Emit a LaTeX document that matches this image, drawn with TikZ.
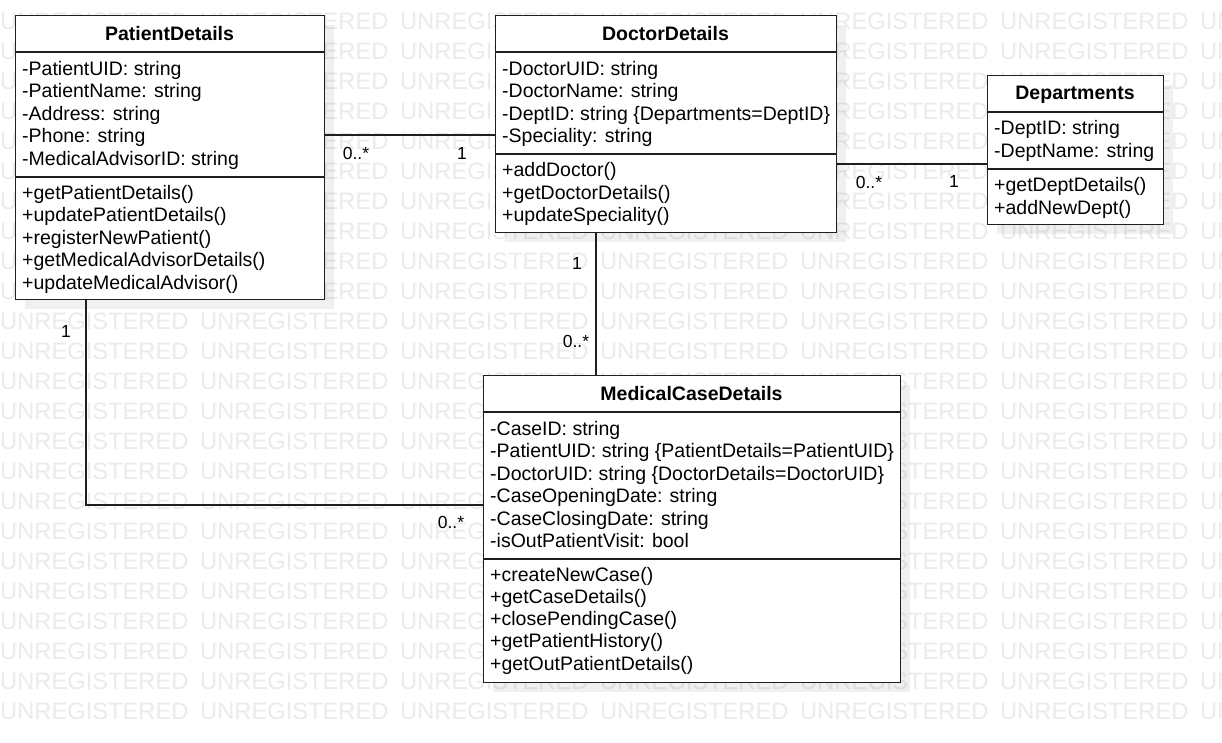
\documentclass[tikz,border=0pt]{standalone}
\usepackage{fontspec}
\setmainfont{Liberation Sans}
\begin{document}
\begin{tikzpicture}[x=1pt,y=-1pt,
  wm/.style={anchor=base west, inner sep=0pt, text=black!8, font=\fontsize{23.7}{24}\selectfont},
  classbox/.style={draw=black!88, line width=1.4pt, fill=white, anchor=north west, inner sep=0pt},
  shadowbox/.style={fill=black, fill opacity=0.06, draw=none, anchor=north west, inner sep=0pt},
  classtitle/.style={anchor=base, inner sep=0pt, font=\bfseries\fontsize{19.5}{22}\selectfont},
  member/.style={anchor=base west, inner sep=0pt, font=\fontsize{19.5}{22}\selectfont},
  mult/.style={inner sep=0pt, font=\fontsize{17.5}{20}\selectfont},
  assoc/.style={draw=black!88, line width=1.4pt},
  divider/.style={draw=black!88, line width=1.4pt}]

\useasboundingbox (0,0) rectangle (1222,742);
\fill[white] (0,0) rectangle (1222,742);

% watermark (words wholly hidden behind class boxes are left out)
\begin{scope}
  \clip (0,0) rectangle (1222,742);
  \foreach \r in {0,...,23}
    \foreach \c in {0,...,6}{
      \pgfmathtruncatemacro\hideword{(\c==3 && ((\r>=13 && \r<=21) || (\r>=1 && \r<=6))) ? 1 : 0}
      \ifnum\hideword=0
        \node[wm] (wm-\r-\c) at (\c*200, 29.5+\r*30) {UNREGISTERED};
      \fi
    }
\end{scope}

% shadows
\node[shadowbox, minimum width=309, minimum height=284] (patientsh) at (25,25) {};
\node[shadowbox, minimum width=341, minimum height=217] (doctorsh) at (505,25) {};
\node[shadowbox, minimum width=176, minimum height=149] (deptsh) at (997,85) {};
\node[shadowbox, minimum width=417, minimum height=307] (medicalsh) at (493,385) {};

% class boxes
\node[classbox, minimum width=309, minimum height=284] (patient) at (15,15) {};
\node[classbox, minimum width=341, minimum height=217] (doctor) at (495,15) {};
\node[classbox, minimum width=176, minimum height=149] (dept) at (987,75) {};
\node[classbox, minimum width=417, minimum height=307] (medical) at (483,375) {};

% dividers
\draw[divider] (patient.west |- 0,52) -- (patient.east |- 0,52);
\draw[divider] (patient.west |- 0,177) -- (patient.east |- 0,177);
\draw[divider] (doctor.west |- 0,52) -- (doctor.east |- 0,52);
\draw[divider] (doctor.west |- 0,154) -- (doctor.east |- 0,154);
\draw[divider] (dept.west |- 0,112) -- (dept.east |- 0,112);
\draw[divider] (dept.west |- 0,169) -- (dept.east |- 0,169);
\draw[divider] (medical.west |- 0,412) -- (medical.east |- 0,412);
\draw[divider] (medical.west |- 0,559) -- (medical.east |- 0,559);

% titles
\node[classtitle] (patientT) at (169.5,40.5) {PatientDetails};
\node[classtitle] (doctorT) at (665.5,40.5) {DoctorDetails};
\node[classtitle] (deptT) at (1075,99.5) {Departments};
\node[classtitle] (medicalT) at (691.5,400) {MedicalCaseDetails};

% members
\foreach \t [count=\i from 0] in {-PatientUID: string,-PatientName: string,-Address: string,-Phone: string,-MedicalAdvisorID: string}
  \node[member] (pa\i) at (22,75+\i*22.5) {\t};
\foreach \t [count=\i from 0] in {+getPatientDetails(),+updatePatientDetails(),+registerNewPatient(),+getMedicalAdvisorDetails(),+updateMedicalAdvisor()}
  \node[member] (pm\i) at (22,199+\i*22.5) {\t};

\foreach \t [count=\i from 0] in {-DoctorUID: string,-DoctorName: string,-DeptID: string \{Departments=DeptID\},-Speciality: string}
  \node[member] (da\i) at (502,75+\i*22.5) {\t};
\foreach \t [count=\i from 0] in {+addDoctor(),+getDoctorDetails(),+updateSpeciality()}
  \node[member] (dm\i) at (502,176.5+\i*22.5) {\t};

\foreach \t [count=\i from 0] in {-DeptID: string,-DeptName: string}
  \node[member] (ea\i) at (994,134.5+\i*22.8) {\t};
\foreach \t [count=\i from 0] in {+getDeptDetails(),+addNewDept()}
  \node[member] (em\i) at (994,191+\i*23) {\t};

\foreach \t [count=\i from 0] in {-CaseID: string,-PatientUID: string \{PatientDetails=PatientUID\},-DoctorUID: string \{DoctorDetails=DoctorUID\},-CaseOpeningDate: string,-CaseClosingDate: string,-isOutPatientVisit: bool}
  \node[member] (ma\i) at (490,435+\i*22.5) {\t};
\foreach \t [count=\i from 0] in {+createNewCase(),+getCaseDetails(),+closePendingCase(),+getPatientHistory(),+getOutPatientDetails()}
  \node[member] (mm\i) at (490,581+\i*22.3) {\t};

% associations
\draw[assoc] (patient.east |- 0,135) -- (doctor.west |- 0,135);
\draw[assoc] (doctor.east |- 0,164) -- (dept.west |- 0,164);
\draw[assoc] (doctor.south -| 596,0) -- (medical.north -| 596,0);
\draw[assoc] (patient.south -| 86,0) |- (medical.west |- 0,505);

% multiplicities
\node[mult] (m1) at (356,153) {0..*};
\node[mult] (m2) at (462,153) {1};
\node[mult] (m3) at (869,182) {0..*};
\node[mult] (m4) at (954,181) {1};
\node[mult] (m5) at (577,263) {1};
\node[mult] (m6) at (576,341) {0..*};
\node[mult] (m7) at (66,331) {1};
\node[mult] (m8) at (451,522) {0..*};
\end{tikzpicture}
\end{document}
